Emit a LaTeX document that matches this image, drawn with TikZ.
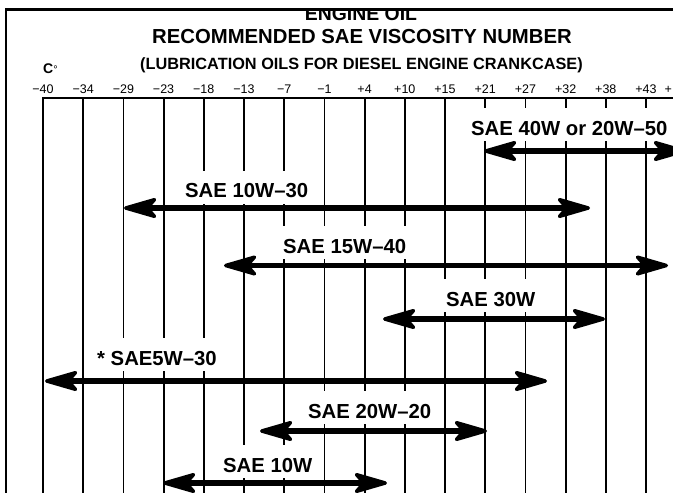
\documentclass[tikz,border=0pt]{standalone}
\usepackage{fontspec}
\setmainfont{Liberation Sans}
\usetikzlibrary{arrows.meta}
\begin{document}
\begin{tikzpicture}[x=1pt,y=-1pt,
  grid/.style={line width=1.8pt},
  frame/.style={line width=3pt},
  band/.style={line width=5.5pt,
    {Stealth[length=40pt,width=23pt,inset=10pt,line width=3.5pt,round]}-{Stealth[length=40pt,width=23pt,inset=10pt,line width=3.5pt,round]}},
  lbl/.style={font=\fontsize{20.3}{24}\selectfont\bfseries, fill=white, anchor=base west,
    inner xsep=5pt, inner ysep=0pt, text height=27pt, text depth=6pt},
  num/.style={font=\fontsize{12.5}{14}\selectfont, anchor=base, inner sep=0pt},
  ttl/.style={anchor=base, inner sep=0pt},
]
\useasboundingbox (0,0) rectangle (673,493);
\clip (0,0) rectangle (673,493);

% titles
\node[ttl, font=\fontsize{19.4}{22}\selectfont\bfseries] (eng) at (361,20) {ENGINE OIL};
\node[ttl, font=\fontsize{20.3}{24}\selectfont\bfseries] (title) at (362,43) {RECOMMENDED SAE VISCOSITY NUMBER};
\node[ttl, font=\fontsize{16.3}{20}\selectfont\bfseries] (sub) at (361.5,69) {(LUBRICATION OILS FOR DIESEL ENGINE CRANKCASE)};
\node[anchor=base west, inner sep=0pt, font=\fontsize{14}{16}\selectfont\bfseries] (unit) at (43,73.5) {C{\mdseries\fontsize{11}{12}\selectfont°}};

% frame
\fill[white] (0,0) rectangle (673,8);
\draw[frame] (6,9.5) -- (700,9.5);
\draw[line width=2.5pt] (6,8) -- (6,520);

% scale
\draw[line width=2pt] (42,97.5) -- (700,97.5);
\foreach \i in {0,...,16} {
  \draw[grid] (43+40.2*\i, 97) -- (43+40.2*\i, 520);
}
\foreach \v [count=\i from 0] in {−40,−34,−29,−23,−18,−13,−7,−1,+4,+10,+15,+21,+27,+32,+38,+43} {
  \node[num] (t\i) at (43+40.2*\i, 93) {\v};
}
\node[num, anchor=base west] (tlast) at (664.5,93) {+};

% labels
\node[lbl] (l1) at (466,135) {SAE 40W or 20W–50};
\node[lbl] (l2) at (180,197.5) {SAE 10W–30};
\node[lbl] (l3) at (278,253) {SAE 15W–40};
\node[lbl] (l4) at (441,306) {SAE 30W};
\node[lbl] (l5) at (92,365) {* SAE5W–30};
\node[lbl] (l6) at (303,418) {SAE 20W–20};
\node[lbl] (l7) at (218,472) {SAE 10W};

% band ends
\coordinate (a1l) at (484,151);   \coordinate (a1r) at (686,151);
\coordinate (a2l) at (124,208);   \coordinate (a2r) at (590,208);
\coordinate (a3l) at (224,265.5); \coordinate (a3r) at (668,265.5);
\coordinate (a4l) at (383,319);   \coordinate (a4r) at (605,319);
\coordinate (a5l) at (45,381);    \coordinate (a5r) at (547,381);
\coordinate (a6l) at (260,431);   \coordinate (a6r) at (487,431);
\coordinate (a7l) at (163,483);   \coordinate (a7r) at (387,483);

\draw[band] (a1l) -- (a1r);
\draw[band] (a2l) -- (a2r);
\draw[band] (a3l) -- (a3r);
\draw[band] (a4l) -- (a4r);
\draw[band] (a5l) -- (a5r);
\draw[band] (a6l) -- (a6r);
\draw[band] (a7l) -- (a7r);
\end{tikzpicture}
\end{document}
